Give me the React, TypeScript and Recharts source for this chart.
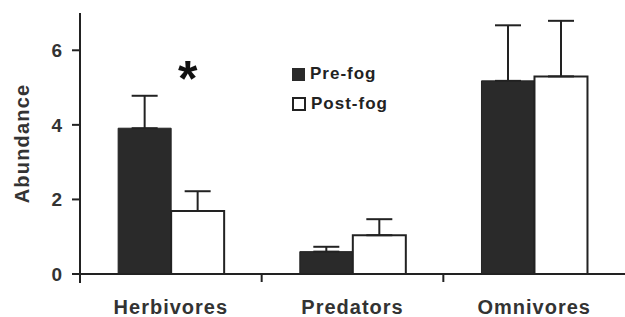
import React from 'react';
import { BarChart, Bar, XAxis, YAxis, ErrorBar, Legend, ReferenceDot } from 'recharts';

const categories = ['Herbivores', 'Predators', 'Omnivores'];
const preFog = [3.91, 0.6, 5.18];
const postFog = [1.69, 1.04, 5.3];
const preFogErr = [0.87, 0.13, 1.49];
const postFogErr = [0.53, 0.43, 1.49];
const yTicks = [0, 2, 4, 6];

const data = categories.map((c, i) => ({
  name: c,
  pre: preFog[i],
  post: postFog[i],
  preErr: [0, preFogErr[i]],
  postErr: [0, postFogErr[i]],
}));

const FONT = '"Liberation Sans", Arial, sans-serif';
const INK = '#222';

const XTick = (props: any) => {
  const { x, y, payload, index } = props;
  const half = payload && payload.offset ? payload.offset : 91;
  return (
    <g>
      {index === 0 && <line x1={x - half} x2={x - half} y1={y} y2={y + 9} stroke={INK} strokeWidth={2} />}
      {index < categories.length - 1 && (
        <line x1={x + half} x2={x + half} y1={y} y2={y + 8} stroke={INK} strokeWidth={2} />
      )}
      <text x={x} y={y + 40} textAnchor="middle" fontFamily={FONT} fontWeight="bold" fontSize={20} letterSpacing={1} fill="#333">
        {payload.value}
      </text>
    </g>
  );
};

const YLabel = (props: any) => {
  const { viewBox } = props;
  const cx = 22;
  const cy = viewBox.y + viewBox.height / 2;
  return (
    <text x={cx} y={cy} transform={`rotate(-90, ${cx}, ${cy})`} textAnchor="middle" dominantBaseline="central" fontFamily={FONT} fontWeight="bold" fontSize={20} letterSpacing={1.2} fill="#333">
      Abundance
    </text>
  );
};

const LegendContent = () => (
  <div style={{ fontFamily: FONT, fontWeight: 'bold', fontSize: 17, color: '#222', letterSpacing: 1 }}>
    <div style={{ display: 'flex', alignItems: 'center', height: 18, marginBottom: 12 }}>
      <span style={{ display: 'inline-block', width: 13, height: 13, background: '#2a2a2a', marginRight: 5 }} />
      Pre-fog
    </div>
    <div style={{ display: 'flex', alignItems: 'center', height: 18 }}>
      <span style={{ display: 'inline-block', width: 10, height: 10, border: '2px solid #222', background: '#fff', marginRight: 5 }} />
      Post-fog
    </div>
  </div>
);

export default function App() {
  return (
    <div style={{ position: 'absolute', left: 0, top: 0, width: 625, height: 317, background: '#fff' }}>
      <BarChart
        width={625}
        height={317}
        data={data}
        margin={{ top: 13, right: 0, bottom: 0, left: 0 }}
        barCategoryGap="21%"
        barGap={0}
      >
        <XAxis
          dataKey="name"
          height={43}
          axisLine={{ stroke: INK, strokeWidth: 2 }}
          tickLine={false}
          tickSize={0}
          tickMargin={0}
          tick={<XTick />}
          interval={0}
        />
        <YAxis
          width={80}
          domain={[0, 7]}
          ticks={yTicks}
          axisLine={{ stroke: INK, strokeWidth: 2 }}
          tickLine={{ stroke: INK, strokeWidth: 2 }}
          tickSize={8}
          tickMargin={10}
          tick={{ fontFamily: FONT, fontWeight: 'bold', fontSize: 19, fill: '#333' }}
          label={<YLabel />}
        />
        <Legend
          layout="horizontal"
          verticalAlign="middle"
          align="center"
          content={<LegendContent />}
          wrapperStyle={{ position: 'absolute', left: 292, top: 65, width: 120 }}
        />
        <Bar dataKey="pre" name="Pre-fog" fill="#2a2a2a" stroke="#222" strokeWidth={1} isAnimationActive={false}>
          <ErrorBar dataKey="preErr" width={13} stroke={INK} strokeWidth={2} direction="y" />
        </Bar>
        <Bar dataKey="post" name="Post-fog" fill="#fff" stroke="#222" strokeWidth={2} isAnimationActive={false}>
          <ErrorBar dataKey="postErr" width={13} stroke={INK} strokeWidth={2} direction="y" />
        </Bar>
        <ReferenceDot
          x="Herbivores"
          y={5.44}
          r={0}
          fill="none"
          stroke="none"
          label={{ value: '*', position: 'center', dx: 17, dy: 7, fontFamily: FONT, fontWeight: 'bold', fontSize: 50, fill: '#111' }}
        />
      </BarChart>
    </div>
  );
}
